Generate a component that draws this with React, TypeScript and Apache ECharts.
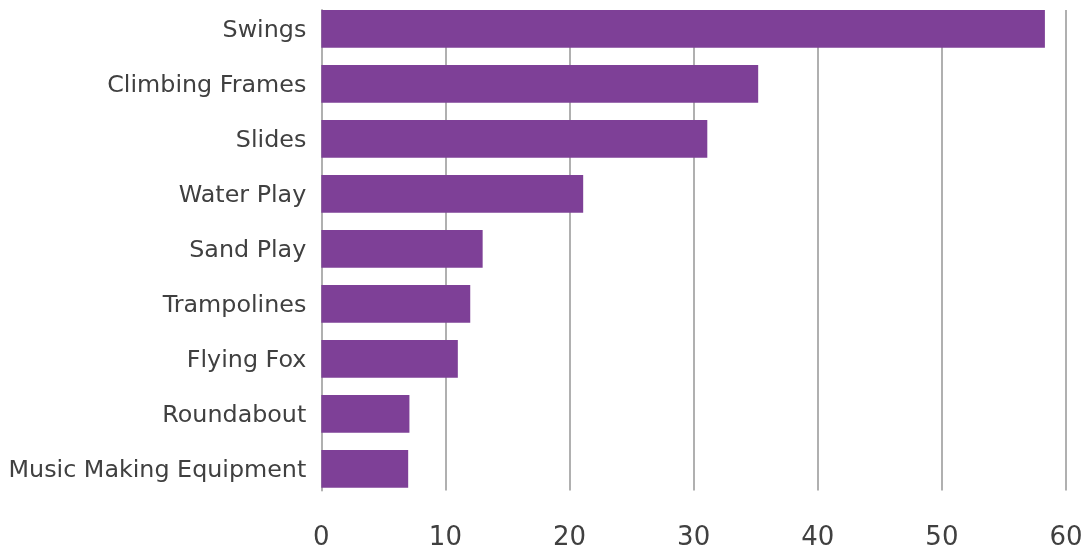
import React, { useEffect, useRef } from "react";
import * as echarts from "echarts";

const categories = [
  "Swings",
  "Climbing Frames",
  "Slides",
  "Water Play",
  "Sand Play",
  "Trampolines",
  "Flying Fox",
  "Roundabout",
  "Music Making Equipment",
];
const values = [58.3, 35.2, 31.1, 21.1, 13.0, 12.0, 11.0, 7.1, 7.0];
const xMin = 0;
const xMax = 60;
const xInterval = 10;

const FONT = "DejaVu Sans";
const TEXT = "#404040";
const GRIDC = "#b0b0b0";
const BAR = "#7e4097";

export default function App() {
  const ref = useRef<HTMLDivElement>(null);
  useEffect(() => {
    if (!ref.current) return;
    const chart = echarts.init(ref.current, null, { renderer: "svg" });
    chart.setOption({
      animation: false,
      grid: [
        { left: 321.3, right: 22, top: 1.35, height: 495 },
        { left: 321.3, right: 22, top: 10, height: 480.5 },
      ],
      xAxis: [
        {
          gridIndex: 0,
          type: "value",
          min: xMin,
          max: xMax,
          interval: xInterval,
          axisLine: { show: false },
          axisTick: { show: false },
          axisLabel: { show: false },
          splitLine: { show: false },
        },
        {
          gridIndex: 1,
          type: "value",
          min: xMin,
          max: xMax,
          interval: xInterval,
          axisLine: { show: false },
          axisTick: { show: false },
          axisLabel: {
            color: TEXT,
            fontFamily: FONT,
            fontSize: 26,
            margin: 32,
          },
          splitLine: { show: true, lineStyle: { color: GRIDC, width: 2 } },
        },
      ],
      yAxis: [
        {
          gridIndex: 0,
          type: "category",
          data: categories,
          inverse: true,
          axisLine: { show: false },
          axisTick: { show: false },
          axisLabel: {
            color: TEXT,
            fontFamily: FONT,
            fontSize: 23.8,
            margin: 15,
          },
        },
        {
          gridIndex: 1,
          type: "category",
          data: categories,
          inverse: true,
          axisLine: { show: true, lineStyle: { color: GRIDC, width: 2 } },
          axisTick: { show: false },
          axisLabel: { show: false },
        },
      ],
      series: [
        {
          type: "bar",
          xAxisIndex: 1,
          yAxisIndex: 1,
          data: [],
          silent: true,
        },
        {
          type: "bar",
          xAxisIndex: 0,
          yAxisIndex: 0,
          data: values,
          barCategoryGap: "31.5%",
          itemStyle: { color: BAR },
          z: 5,
        },
      ],
    });
    return () => chart.dispose();
  }, []);
  return (
    <div
      ref={ref}
      style={{ position: "fixed", left: 0, top: 0, width: 1088, height: 550 }}
    />
  );
}
